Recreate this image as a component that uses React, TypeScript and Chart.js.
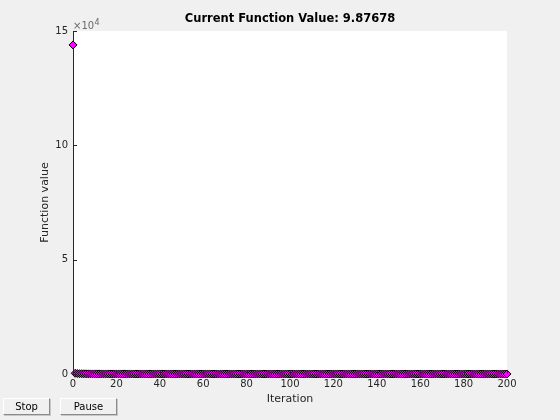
import React, { useEffect, useRef } from "react";
import { Chart, registerables } from "chart.js";

Chart.register(...registerables);

const titleText = "Current Function Value: 9.87678";
const xLabel = "Iteration";
const yLabel = "Function value";
const xTicks = [0, 20, 40, 60, 80, 100, 120, 140, 160, 180, 200];
const yTicks = [0, 50000, 100000, 150000];
const fvals = [
  143900, 312.4, 198.6, 141.3, 108.5, 86.2, 71.9, 61.4, 53.8, 47.7,
  43.1, 39.5, 36.6, 34.2, 32.1, 30.4, 28.9, 27.6, 26.4, 25.4,
  24.5, 23.7, 23.0, 22.3, 21.7, 21.2, 20.7, 20.3, 19.9, 19.5,
  19.2, 18.9, 18.6, 18.3, 18.1, 17.8, 17.6, 17.4, 17.2, 17.0,
  16.8, 16.6, 16.4, 16.2, 16.1, 15.9, 15.7, 15.6, 15.4, 15.3,
  15.1, 15.0, 14.9, 14.7, 14.6, 14.5, 14.4, 14.3, 14.2, 14.1,
  14.0, 13.9, 13.8, 13.7, 13.6, 13.5, 13.4, 13.3, 13.2, 13.1,
  13.0, 12.95, 12.87, 12.79, 12.71, 12.64, 12.57, 12.5, 12.43, 12.36,
  12.29, 12.23, 12.17, 12.11, 12.05, 11.99, 11.93, 11.87, 11.82, 11.76,
  11.71, 11.66, 11.61, 11.56, 11.51, 11.47, 11.42, 11.38, 11.34, 11.3,
  11.26, 11.22, 11.18, 11.15, 11.11, 11.08, 11.05, 11.01, 10.98, 10.95,
  10.92, 10.9, 10.87, 10.84, 10.82, 10.79, 10.77, 10.74, 10.72, 10.7,
  10.68, 10.66, 10.64, 10.62, 10.6, 10.58, 10.56, 10.55, 10.53, 10.51,
  10.5, 10.48, 10.47, 10.45, 10.44, 10.43, 10.41, 10.4, 10.39, 10.37,
  10.36, 10.35, 10.34, 10.33, 10.32, 10.31, 10.3, 10.29, 10.28, 10.27,
  10.26, 10.25, 10.24, 10.23, 10.22, 10.21, 10.2, 10.19, 10.18, 10.17,
  10.16, 10.15, 10.14, 10.13, 10.12, 10.11, 10.1, 10.09, 10.08, 10.07,
  10.06, 10.05, 10.04, 10.03, 10.02, 10.01, 10.0, 9.99, 9.98, 9.97,
  9.96, 9.955, 9.95, 9.945, 9.94, 9.935, 9.93, 9.925, 9.92, 9.915,
  9.91, 9.905, 9.9, 9.896, 9.892, 9.888, 9.885, 9.882, 9.879, 9.878,
  9.87678,
];

const FONT = "'DejaVu Sans', sans-serif";
const TXT = "#262626";

const decorPlugin = {
  id: "decor",
  afterDraw(chart: any) {
    const ctx = chart.ctx;
    const area = chart.chartArea;
    const xs = chart.scales.x;
    const ys = chart.scales.y;
    ctx.save();
    ctx.strokeStyle = TXT;
    ctx.lineWidth = 1;
    ctx.beginPath();
    yTicks.forEach((v) => {
      const py = Math.round(ys.getPixelForValue(v)) + 0.5;
      ctx.moveTo(area.left, py);
      ctx.lineTo(area.left + 4, py);
    });
    xTicks.forEach((v) => {
      const px = Math.round(xs.getPixelForValue(v)) + 0.5;
      ctx.moveTo(px, area.bottom);
      ctx.lineTo(px, area.bottom - 4);
    });
    ctx.stroke();
    ctx.fillStyle = "#000";
    ctx.font = `bold 11.5px ${FONT}`;
    ctx.textAlign = "center";
    ctx.textBaseline = "middle";
    ctx.fillText(titleText, (area.left + area.right) / 2, 19);
    ctx.fillStyle = TXT;
    ctx.font = `11px ${FONT}`;
    ctx.fillText(xLabel, (area.left + area.right) / 2, 399);
    ctx.save();
    ctx.translate(45, (area.top + area.bottom) / 2);
    ctx.rotate(-Math.PI / 2);
    ctx.fillText(yLabel, 0, 0);
    ctx.restore();
    ctx.fillStyle = "#6a6a6a";
    ctx.textAlign = "left";
    ctx.textBaseline = "alphabetic";
    ctx.font = `10px ${FONT}`;
    ctx.fillText("\u00d710", area.left, 29);
    ctx.font = `8px ${FONT}`;
    ctx.fillText("4", area.left + 21.5, 25);
    ctx.restore();
  },
};

export default function App() {
  const ref = useRef<HTMLCanvasElement | null>(null);
  useEffect(() => {
    if (!ref.current) return;
    const chart = new Chart(ref.current, {
      type: "scatter",
      data: {
        datasets: [
          {
            data: fvals.map((v, i) => ({ x: i, y: v })),
            pointStyle: "rectRot",
            pointRadius: 4,
            pointBorderWidth: 1,
            pointBackgroundColor: "#ff00ff",
            pointBorderColor: "#000000",
            showLine: false,
            clip: false,
          } as any,
        ],
      },
      options: {
        animation: false,
        responsive: false,
        maintainAspectRatio: false,
        layout: { padding: { left: 0, right: 53, top: 31, bottom: 0 } },
        plugins: { legend: { display: false }, tooltip: { enabled: false }, title: { display: false } },
        scales: {
          x: {
            type: "linear",
            min: 0,
            max: 200,
            afterFit: (s: any) => {
              s.height = 46;
            },
            afterBuildTicks: (s: any) => {
              s.ticks = xTicks.map((v) => ({ value: v }));
            },
            grid: { display: false, drawTicks: false },
            border: { display: true, color: TXT, width: 1 },
            ticks: {
              padding: 4,
              color: TXT,
              font: { family: FONT, size: 10 },
              maxRotation: 0,
              autoSkip: false,
            },
          },
          y: {
            type: "linear",
            min: 0,
            max: 150000,
            afterFit: (s: any) => {
              s.width = 73;
            },
            afterBuildTicks: (s: any) => {
              s.ticks = yTicks.map((v) => ({ value: v }));
            },
            grid: { display: false, drawTicks: false },
            border: { display: true, color: TXT, width: 1 },
            ticks: {
              padding: 5,
              color: TXT,
              font: { family: FONT, size: 10 },
              autoSkip: false,
              callback: (v: any) => String(Number(v) / 10000),
            },
          },
        },
      } as any,
      plugins: [
        {
          id: "bg",
          beforeDraw(c: any) {
            const ctx = c.ctx;
            const a = c.chartArea;
            ctx.save();
            ctx.fillStyle = "#f0f0f0";
            ctx.fillRect(0, 0, c.width, c.height);
            ctx.fillStyle = "#ffffff";
            ctx.fillRect(a.left, a.top, a.right - a.left, a.bottom - a.top);
            ctx.restore();
          },
        },
        decorPlugin,
      ],
    });
    return () => chart.destroy();
  }, []);

  const btn: React.CSSProperties = {
    position: "absolute",
    top: 398,
    height: 17,
    boxSizing: "border-box",
    background: "#f0f0f0",
    borderTop: "1px solid #ffffff",
    borderLeft: "1px solid #ffffff",
    borderRight: "1px solid #8a8a8a",
    borderBottom: "1px solid #8a8a8a",
    boxShadow: "1px 1px 0 #c8c8c8",
    fontFamily: FONT,
    fontSize: 10,
    color: "#000",
    display: "flex",
    alignItems: "center",
    justifyContent: "center",
  };

  return (
    <div style={{ position: "absolute", left: 0, top: 0, width: 560, height: 420, background: "#f0f0f0" }}>
      <canvas ref={ref} width={560} height={420} style={{ display: "block", width: 560, height: 420 }} />
      <div style={{ ...btn, left: 3, width: 47 }}>Stop</div>
      <div style={{ ...btn, left: 60, width: 57 }}>Pause</div>
    </div>
  );
}
